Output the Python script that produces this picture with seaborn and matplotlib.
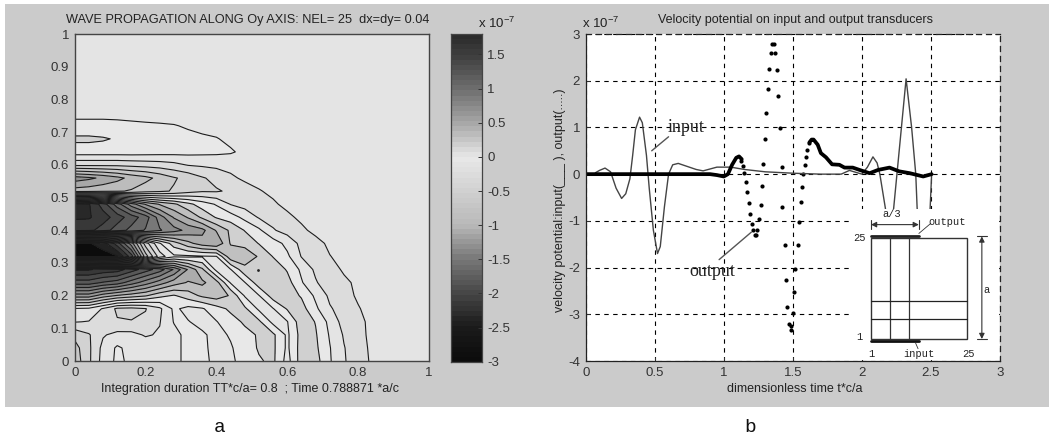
"""Wave field contour map (a) and transducer velocity potential traces (b)."""
import numpy as np
import matplotlib
matplotlib.use("Agg")
import matplotlib.pyplot as plt
from matplotlib.patches import Rectangle
import seaborn as sns

W, H = 1049, 438

# field, in contour steps, one list per row of the 0.04 grid (rest is zero)
PHI_ROWS = [
    [-3.1, -1.7, -.1, .7, .3, .1, .1, .3, .7, .8, .2, .3, .9, 1.4, 1.7, .1, 2.0, 1.9, .6, -.4, -1.1, -.3],
    [-2.9, -1.7, -.2, .65, .2, .1, .1, .3, .7, .7, .2, .4, 1.0, 1.6, 1.7, .3, 1.95, 1.7, .55, -.45, -1.1, -.2],
    [-2.2, -1.6, -.6, -.2, -.2, -.6, -.4, .2, .8, .65, .2, .6, 1.2, 1.6, 1.7, .3, 1.9, 1.6, .4, -.6, -1, -.1],
    [-.45, -.55, -.8, -1.4, -1.45, -1.3, -.55, .55, .55, .2, .45, 1.1, 1.65, 1.7, .2, .45, 2.1, 1.45, .2, -.9, -.9, -.1],
    [.4, .3, -.6, -1.7, -1.8, -1.55, -.7, .7, .2, .4, 1.1, 1.7, 1.7, .3, .45, 1.6, 1.9, .7, -.4, -.9, -.6],
    [5, 5, 4, 3.4, 3, 2.6, 1.8, 1.4, 2, 2.7, 3, 2.4, .4, .45, 2, 2, 1.4, .3, -.7, -1, -.3],
    [9, 9, 8.4, 8, 7, 6, 5, 4, 3.4, 3.7, 2.9, .4, .45, 2.1, 2.2, 1.9, .6, -.4, -1.1, -.8, -.2],
    [11.6, 11.6, 11.2, 11, 10, 9, 8, 6.4, 4.4, 2.7, .2, .45, 2.2, 2.4, 2.2, 1.4, .3, -.7, -1.1, -.3],
    [-12, -12, -12, -11.6, -9, -4, -1, .3, .3, .4, .45, 3.2, 3.1, 2.4, 1.45, .7, -.55, -1, -.55, -.05],
    [-12, -11.6, -11, -9, -6, -2, .4, 2, 3.2, 4, 4.4, 2.4, 2.2, 1.45, 1, .2, -.8, -1, -.2],
    [11, 10.8, 10, 9, 8.2, 7.4, 6.6, 5.9, 5.2, 4.8, 3.4, 2.3, 1.45, .7, -.4, -.9, -.8, -.1],
    [11.6, 11.6, 11, 10, 9, 8, 6, 4.4, 3.4, 2.3, 1.4, 1, .2, -.6, -.9, -.8, -.2],
    [12, 11.6, 10, 8, 6, 4.4, 3.4, 2.7, 1.8, 1, .4, -.55, -.9, -.9, -.7, -.15],
    [-4, -3.9, -3.7, -3.6, -3.4, -2.9, -2.7, -2.4, -1.9, -1.6, -1.6, -1.35, -1, -.6, -.2],
    [-6, -5.7, -5.3, -4.8, -4.2, -3.8, -3.2, -2.6, -2.2, -1.6, -1.2, -.7, -.3],
    [-1.3, -1.3, -1.3, -1.3, -1.2, -1.1, -1, -.8, -.45, -.35, -.25, -.15],
    [1, 1, 1, 1, 1, .95, .9, .85, .8, .75, .7, .6, .3, .1],
    [1.7, 1.7, 1.6, 1.4, 1.2, 1.05, .95, .85, .75, .65, .55, .3, .1],
    [.8, .8, .8, .75, .7, .65, .6, .55, .4, .25, .15],
    [.2, .2, .2, .2, .15, .1, .1, .05],
]
GRID_AXIS = [i * 0.04 for i in range(26)]
# greys of the 25 contour bands, lowest first
BAND_GREYS = ["#0c0c0c", "#222222", "#343434", "#484848", "#606060", "#787878", "#909090",
              "#a8a8a8", "#bcbcbc", "#c8c8c8", "#d2d2d2", "#dcdcdc", "#e4e4e4", "#e8e8e8",
              "#d0d0d0", "#c0c0c0", "#acacac", "#989898", "#888888", "#787878", "#686868",
              "#585858", "#484848", "#383838", "#282828"]
SPECK_X = [.518]
SPECK_Y = [.28]

CBAR_VALUES = [-3, -2.5, -2, -1.5, -1, -.5, 0, .25, .5, 1, 1.5, 1.8]
CBAR_GREYS = [12, 28, 72, 120, 184, 208, 232, 200, 168, 112, 64, 44]
CBAR_TICKS = [-3, -2.5, -2, -1.5, -1, -.5, 0, .5, 1, 1.5]
CBAR_LABELS = ["-3", "-2.5", "-2", "-1.5", "-1", "-0.5", "0", "0.5", "1", "1.5"]

INPUT_T = [.07, .10, .14, .18, .22, .26, .29, .32, .34, .36, .39, .41, .44, .46, .49, .52, .54, .57,
           .60, .63, .67, .72, .80, .85, .95, 1.05, 1.15, 1.30, 1.50, 1.70, 1.85, 1.91, 2.00, 2.04,
           2.08, 2.11, 2.13, 2.17, 2.20, 2.21, 2.23, 2.27, 2.32, 2.36, 2.39, 2.40, 2.42, 2.46, 2.49, 2.505]
INPUT_V = [.03, .08, .13, .05, -.30, -.52, -.42, -.10, .40, .95, 1.22, 1.10, .40, -.30, -1.20, -1.70, -1.55, -.70,
           0, .20, .23, .18, .10, .07, .15, .15, .10, .05, .02, 0, 0, .08, 0, .15,
           .37, .24, 0, -.73, -1.3, -1.3, -.73, .5, 2.04, 1.0, 0, -.73, -1.2, -1.5, -1.0, 0]

OUTPUT_DOT_T = [1.126, 1.14, 1.147, 1.162, 1.169, 1.184, 1.19, 1.203, 1.215, 1.227, 1.234, 1.244, 1.258, 1.266,
                1.28, 1.287, 1.30, 1.307, 1.32, 1.33, 1.343, 1.348, 1.36, 1.372, 1.384, 1.396, 1.406, 1.418,
                1.425, 1.44, 1.447, 1.459, 1.473, 1.485, 1.49, 1.502, 1.507, 1.517, 1.536, 1.543, 1.558,
                1.565, 1.577, 1.585, 1.597, 1.606, 1.618]
OUTPUT_DOT_V = [.28, .18, .03, -.17, -.39, -.62, -.85, -1.06, -1.2, -1.3, -1.3, -1.2, -.97, -.66,
                -.25, .22, .75, 1.31, 1.82, 2.25, 2.6, 2.78, 2.78, 2.6, 2.23, 1.68, .98, .16,
                -.71, -1.52, -2.26, -2.84, -3.21, -3.33, -3.26, -2.97, -2.53, -2.02, -1.51, -1.02, -.6,
                -.27, 0, .2, .36, .51, .66]
OUTPUT_EARLY_T = [0, .90, .95, 1.00, 1.03, 1.06, 1.09, 1.11, 1.13]
OUTPUT_EARLY_V = [0, 0, -.02, -.05, 0, .20, .35, .38, .32]
OUTPUT_LATE_T = [1.62, 1.636, 1.65, 1.68, 1.703, 1.74, 1.784, 1.837, 1.874, 1.934, 1.983, 2.056, 2.117,
                 2.20, 2.27, 2.347, 2.444, 2.505]
OUTPUT_LATE_V = [.68, .74, .74, .63, .45, .36, .21, .20, .14, .14, .09, .02, .09, .14, .06, .02, -.05, 0]

LEFT_XTICKS = [0, .2, .4, .6, .8, 1]
LEFT_XLABELS = ["0", "0.2", "0.4", "0.6", "0.8", "1"]
LEFT_YTICKS = [0, .1, .2, .3, .4, .5, .6, .7, .8, .9, 1]
LEFT_YLABELS = ["0", "0.1", "0.2", "0.3", "0.4", "0.5", "0.6", "0.7", "0.8", "0.9", "1"]
RIGHT_XTICKS = [0, .5, 1, 1.5, 2, 2.5, 3]
RIGHT_XLABELS = ["0", "0.5", "1", "1.5", "2", "2.5", "3"]
RIGHT_YTICKS = [-4, -3, -2, -1, 0, 1, 2, 3]

# inset sketch of the plate, in element numbers
PLATE_SIDE = [1, 25]
PLATE_COLS = [5.8, 10.6]
PLATE_ROWS = [5.7, 10.1]
TRANSDUCER = [1, 13]

sns.set_theme(style="ticks", rc={"axes.linewidth": 0.8, "xtick.direction": "in", "ytick.direction": "in",
                                 "xtick.major.size": 3, "ytick.major.size": 3,
                                 "xtick.major.pad": 4, "ytick.major.pad": 4})
plt.rcParams["font.family"] = ["Liberation Sans", "DejaVu Sans"]
plt.rcParams["mathtext.default"] = "regular"
plt.rcParams["font.size"] = 8.3
INK = "#333333"


def px_axes(fig, left, top, right, bottom, **kw):
    return fig.add_axes([left / W, 1 - bottom / H, (right - left) / W, (bottom - top) / H], **kw)


def px_text(fig, x, y, s, **kw):
    kw.setdefault("ha", "center")
    kw.setdefault("va", "center")
    kw.setdefault("color", "#222222")
    return fig.text(x / W, 1 - y / H, s, **kw)


def style_ticks(ax, xticks, xlabels, yticks, ylabels):
    ax.set_xticks(xticks)
    ax.set_xticklabels(xlabels, fontsize=9.5, color=INK)
    ax.set_yticks(yticks)
    ax.set_yticklabels(ylabels, fontsize=9.5, color=INK)
    ax.set_xlabel("")
    ax.set_ylabel("")
    ax.tick_params(colors=INK, width=0.7)


def draw_map(fig):
    ax = px_axes(fig, 74.7, 34.3, 429, 361)
    phi = np.zeros((len(GRID_AXIS), len(GRID_AXIS)))
    for j, row in enumerate(PHI_ROWS):
        phi[j, :len(row)] = row
    levels = np.arange(-12.5, 13.0)
    ax.contourf(GRID_AXIS, GRID_AXIS, phi, levels=levels, colors=BAND_GREYS)
    ax.contour(GRID_AXIS, GRID_AXIS, phi, levels=levels, colors="#1c1c1c", linewidths=0.8,
               linestyles="solid")
    sns.scatterplot(x=SPECK_X, y=SPECK_Y, ax=ax, color="#222222", s=4, linewidth=0)
    ax.set_xlim(0, 1)
    ax.set_ylim(0, 1)
    style_ticks(ax, LEFT_XTICKS, LEFT_XLABELS, LEFT_YTICKS, LEFT_YLABELS)
    ax.tick_params(length=0)
    sns.despine(ax=ax, top=False, right=False)
    for s in ax.spines.values():
        s.set_color("#444444")
        s.set_linewidth(1.0)

    cax = px_axes(fig, 450.7, 34, 481.7, 361.7)
    ramp = np.interp(np.linspace(-3, 1.8, 64), CBAR_VALUES, CBAR_GREYS)
    cax.imshow(ramp[:, None], origin="lower", aspect="auto", cmap="gray", vmin=0, vmax=255,
               extent=[0, 1, -3, 1.8], interpolation="nearest")
    cax.set_xticks([])
    cax.yaxis.tick_right()
    cax.set_yticks(CBAR_TICKS)
    cax.set_yticklabels(CBAR_LABELS, fontsize=9.5, color=INK)
    cax.tick_params(axis="y", length=3, width=0.7, colors=INK, direction="in")
    for s in cax.spines.values():
        s.set_color("#444444")
        s.set_linewidth(0.9)
    px_text(fig, 248, 20, "WAVE PROPAGATION ALONG Oy AXIS: NEL= 25  dx=dy= 0.04", fontsize=9.2)
    px_text(fig, 250, 389, "Integration duration TT*c/a= 0.8  ; Time 0.788871 *a/c", fontsize=9)
    px_text(fig, 497, 23, "x 10$^{-7}$", fontsize=9.5)
    px_text(fig, 220, 427, "a", fontsize=14, family="Liberation Mono", color="#111111")


def draw_traces(fig):
    ax = px_axes(fig, 585.7, 34, 1000, 361)
    ax.set_facecolor("white")
    sns.lineplot(x=INPUT_T, y=INPUT_V, ax=ax, color="#444444", lw=1.0, estimator=None, sort=False)
    sns.lineplot(x=OUTPUT_EARLY_T, y=OUTPUT_EARLY_V, ax=ax, color="black", lw=2.7, estimator=None, sort=False)
    sns.lineplot(x=OUTPUT_LATE_T, y=OUTPUT_LATE_V, ax=ax, color="black", lw=2.7, estimator=None, sort=False)
    sns.scatterplot(x=OUTPUT_DOT_T, y=OUTPUT_DOT_V, ax=ax, color="black", s=9, linewidth=0)
    ax.set_xlim(0, 3)
    ax.set_ylim(-4, 3)
    style_ticks(ax, RIGHT_XTICKS, RIGHT_XLABELS, RIGHT_YTICKS, [str(v) for v in RIGHT_YTICKS])
    ax.grid(True, color="black", linestyle=(0, (4, 4)), linewidth=0.8)
    ax.set_axisbelow(True)
    for name, s in ax.spines.items():
        s.set_color("#222222")
        s.set_linewidth(0.9)
        if name in ("top", "right"):
            s.set_linestyle((0, (4, 4)))

    ax.plot([.6, .478], [.8, .5], color="#555555", lw=1.0)
    ax.plot([1.2, .966], [-1.24, -1.83], color="#555555", lw=1.0)
    ax.text(.725, 1.0, "input", family="Liberation Serif", fontsize=13, color="#222222", ha="center", va="center")
    ax.text(.92, -2.08, "output", family="Liberation Serif", fontsize=13, color="#222222", ha="center", va="center")

    px_text(fig, 795, 20, "Velocity potential on input and output transducers", fontsize=9)
    px_text(fig, 795, 389, "dimensionless time t*c/a", fontsize=9)
    px_text(fig, 560, 200, "velocity potential:input(___ ), output(.....)", fontsize=9, rotation=90)
    px_text(fig, 601, 23, "x 10$^{-7}$", fontsize=9.5)
    px_text(fig, 750, 427, "b", fontsize=14, family="Liberation Mono", color="#111111")
    return ax


def draw_inset(fig):
    # element numbers 1..25 span x 871-966.7 and y 339-237.7 in the picture
    left, top, right, bottom = 850, 209, 999, 360
    sx, sy = 95.7 / 24, 101.3 / 24
    ax = px_axes(fig, left, top, right, bottom)
    ax.set_xlim(1 + (left - 871) / sx, 1 + (right - 871) / sx)
    ax.set_ylim(1 + (339 - bottom) / sy, 1 + (339 - top) / sy)
    ax.set_facecolor("white")
    ax.set_xticks([])
    ax.set_yticks([])
    sns.despine(ax=ax, left=True, bottom=True)

    low, high = PLATE_SIDE
    ax.add_patch(Rectangle((low, low), high - low, high - low, fill=False, ec="#333333", lw=1.0))
    for c in PLATE_COLS:
        ax.plot([c, c], PLATE_SIDE, color="#333333", lw=0.9)
    for r in PLATE_ROWS:
        ax.plot(PLATE_SIDE, [r, r], color="#222222", lw=0.9)
    ax.plot(TRANSDUCER, [high + .4, high + .4], color="#222222", lw=2)
    ax.plot(TRANSDUCER, [low - .4, low - .4], color="#111111", lw=2)
    ax.plot([13, 16], [26, 28.4], color="#333333", lw=0.6)
    ax.plot([12.2, 12.8], [0, -1.3], color="#333333", lw=0.6)

    mono = dict(family="Liberation Mono", fontsize=7.5, color="#222222", ha="center", va="center")
    ax.text(-1.9, 25, "25", **mono)
    ax.text(-1.9, 1.5, "1", **mono)
    ax.text(1, -2.6, "1", **mono)
    ax.text(12.9, -2.6, "input", **mono)
    ax.text(25.5, -2.6, "25", **mono)
    ax.text(20, 28.7, "output", **mono)
    ax.text(6.3, 30.5, "a/3", **mono)
    ax.text(29.9, 12.5, "a", **mono)

    arrow = dict(arrowstyle="<|-|>", color="#333333", lw=0.8, mutation_scale=8, shrinkA=0, shrinkB=0)
    ax.annotate("", xy=(1, 28.1), xytext=(13, 28.1), arrowprops=arrow)
    ax.plot([1, 1], [27, 29.2], color="#333333", lw=0.8)
    ax.plot([13, 13], [27, 29.2], color="#333333", lw=0.8)
    ax.annotate("", xy=(28.8, 25.3), xytext=(28.8, 1), arrowprops=arrow)
    ax.plot([27.6, 30], [25.3, 25.3], color="#333333", lw=0.8)
    ax.plot([27.6, 30], [1, 1], color="#333333", lw=0.8)


def main():
    fig = plt.figure(figsize=(W / 100, H / 100), dpi=100, facecolor="white")
    fig.patches.append(Rectangle((5 / W, 1 - 407 / H), (W - 5) / W, 403 / H, transform=fig.transFigure,
                                 facecolor="#cbcbcb", edgecolor="none", figure=fig, zorder=-5))
    draw_map(fig)
    draw_traces(fig)
    draw_inset(fig)
    fig.savefig("out.png", dpi=100)
    plt.close(fig)


if __name__ == "__main__":
    main()
